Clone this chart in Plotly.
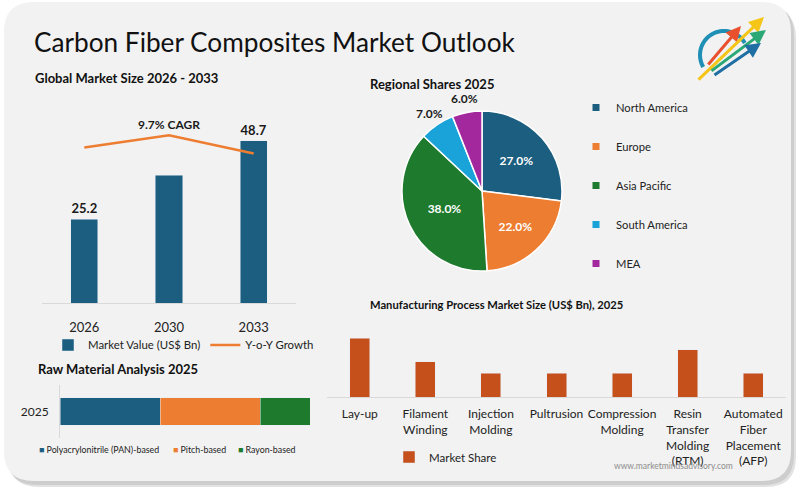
import numpy as np
import plotly.graph_objects as go

W, H = 800, 489
FONT = "Lato"
TXT = "#1a1a1a"

# ---------------- data ----------------
years = ["2026", "2030", "2033"]
market_value = [25.2, 38.4, 48.7]
value_labels = ["25.2", "", "48.7"]
yoy_growth = [10.2, 11.0, 9.8]
cagr_label = "9.7% CAGR"

regions = ["North America", "Europe", "Asia Pacific", "South America", "MEA"]
region_share = [27.0, 22.0, 38.0, 7.0, 6.0]
region_colors = ["#1b5e80", "#ed7d31", "#1e7a2d", "#19a3d9", "#a3289e"]
region_label_inside = [True, True, True, False, False]

raw_year = ["2025"]
raw_materials = ["Polyacrylonitrile (PAN)-based", "Pitch-based", "Rayon-based"]
raw_share = [40, 40, 20]
raw_colors = ["#1b5e80", "#ed7d31", "#1e7a2d"]

processes = ["Lay-up", "Filament<br>Winding", "Injection<br>Molding", "Pultrusion",
             "Compression<br>Molding", "Resin<br>Transfer<br>Molding<br>(RTM)",
             "Automated<br>Fiber<br>Placement<br>(AFP)"]
process_share = [25, 15, 10, 10, 10, 20, 10]
process_color = "#c5501b"


def px(x):
    return x / W


def py(y):
    return 1 - y / H


def rrect(x0, y0, x1, y1, r):
    return (f"M {px(x0 + r)},{py(y0)} L {px(x1 - r)},{py(y0)} "
            f"Q {px(x1)},{py(y0)} {px(x1)},{py(y0 + r)} L {px(x1)},{py(y1 - r)} "
            f"Q {px(x1)},{py(y1)} {px(x1 - r)},{py(y1)} L {px(x0 + r)},{py(y1)} "
            f"Q {px(x0)},{py(y1)} {px(x0)},{py(y1 - r)} L {px(x0)},{py(y0 + r)} "
            f"Q {px(x0)},{py(y0)} {px(x0 + r)},{py(y0)} Z")


fig = go.Figure()

# ---- Global market size ----
fig.add_trace(go.Bar(
    x=years, y=market_value, width=0.32, marker_color="#1b5e80",
    text=value_labels, textposition="outside", cliponaxis=False,
    textfont=dict(family=FONT, size=13, color=TXT, weight="bold"),
    name="Market Value (US$ Bn)", legend="legend", xaxis="x", yaxis="y"))
fig.add_trace(go.Scatter(
    x=years, y=yoy_growth, mode="lines", line=dict(color="#ed7d31", width=2.5),
    name="Y-o-Y Growth", legend="legend", xaxis="x", yaxis="y2"))

# ---- Regional pie ----
PIE_CX, PIE_CY, PIE_R = 482, 191, 80
fig.add_trace(go.Pie(
    labels=regions, values=region_share, sort=False, direction="clockwise",
    marker=dict(colors=region_colors, line=dict(color="white", width=1.5)),
    texttemplate="%{value:.1f}%",
    textposition=["inside" if v else "none" for v in region_label_inside],
    insidetextorientation="horizontal",
    textfont=dict(family=FONT, size=12, weight="bold", color="white"),
    domain=dict(x=[px(PIE_CX - PIE_R), px(PIE_CX + PIE_R)],
                y=[py(PIE_CY + PIE_R), py(PIE_CY - PIE_R)]),
    showlegend=False, hoverinfo="label+percent"))
for lab, col in zip(regions, region_colors):
    fig.add_trace(go.Scatter(
        x=[-10], y=[-10], mode="markers",
        marker=dict(symbol="square", size=7, color=col),
        name=lab, legend="legend2", legendgroup=lab, xaxis="x5", yaxis="y5",
        hoverinfo="skip"))

# ---- Raw material ----
for mat, val, col in zip(raw_materials, raw_share, raw_colors):
    fig.add_trace(go.Bar(
        x=[val], y=raw_year, orientation="h", width=0.51, marker_color=col,
        name=mat, showlegend=False, xaxis="x3", yaxis="y3"))

# ---- Manufacturing process ----
fig.add_trace(go.Bar(
    x=processes, y=process_share, width=0.305, marker_color=process_color,
    name="Market Share", legend="legend4", xaxis="x4", yaxis="y4"))

# ---------------- shapes ----------------
shapes = [
    dict(type="path", path=rrect(9, 8, 796, 487, 30), xref="paper", yref="paper",
         fillcolor="#e2e2e2", line=dict(width=0), layer="below"),
    dict(type="path", path=rrect(7, 5, 794, 485, 30), xref="paper", yref="paper",
         fillcolor="#cdcdcd", line=dict(width=0), layer="below"),
    dict(type="path", path=rrect(4, 2, 791, 481, 30), xref="paper", yref="paper",
         fillcolor="#f2f2f2", line=dict(width=0), layer="below"),
]
# logo arc
ang = np.linspace(np.radians(150), np.radians(330), 40)
cx, cy, r = 724, 55, 24
pts = [(cx + r * np.cos(a), cy + r * np.sin(a)) for a in ang]
path = "M " + " L ".join(f"{px(x)},{py(y)}" for x, y in pts)
shapes.append(dict(type="path", path=path, xref="paper", yref="paper",
                   line=dict(color="#1f8fb5", width=4)))

annotations = [
    dict(text="Carbon Fiber Composites Market Outlook", x=px(32), y=py(42),
         font=dict(family=FONT, size=26.2, color="#111")),
    dict(text="Global Market Size 2026 - 2033", x=px(33), y=py(78),
         font=dict(family=FONT, size=13, color="#111", weight="bold")),
    dict(text="Regional Shares 2025", x=px(368), y=py(84),
         font=dict(family=FONT, size=13, color="#111", weight="bold")),
    dict(text="Raw Material Analysis 2025", x=px(36), y=py(369),
         font=dict(family=FONT, size=13, color="#111", weight="bold")),
    dict(text="Manufacturing Process Market Size (US$ Bn), 2025", x=px(368), y=py(304),
         font=dict(family=FONT, size=11.2, color="#111", weight="bold")),
    dict(text="www.marketmindsadvisory.com", x=px(612), y=py(466),
         font=dict(family=FONT, size=8.5, color="#8c8c8c")),
]
# raw-material legend entries
for mat, col, lx in zip(raw_materials, raw_colors, [37, 171, 236]):
    annotations.append(dict(
        text=f'<span style="color:{col}">■</span> {mat}', x=px(lx), y=py(449),
        font=dict(family=FONT, size=8.8, color="#222")))
for a in annotations:
    a.update(xref="paper", yref="paper", xanchor="left", yanchor="middle", showarrow=False)

# outside pie labels (small slices), placed from the slice mid-angles
total = sum(region_share)
cum = 0.0
for val, inside in zip(region_share, region_label_inside):
    mid = (cum + val / 2) / total * 2 * np.pi
    cum += val
    if inside:
        continue
    rr = PIE_R + 14
    annotations.append(dict(
        text=f"{val:.1f}%", x=px(PIE_CX + rr * np.sin(mid)), y=py(PIE_CY - rr * np.cos(mid)),
        xref="paper", yref="paper", xanchor="center", yanchor="middle", showarrow=False,
        font=dict(family=FONT, size=12, color=TXT, weight="bold")))

annotations.append(dict(text=cagr_label, x=years.index("2030"), y=yoy_growth[1],
                        xref="x", yref="y2", yshift=11, showarrow=False,
                        font=dict(family=FONT, size=12, color=TXT, weight="bold")))
# logo arrows (tip, tail, colour)
for tip, tail, col in [((741, 26), (707, 66), "#e8502e"), ((764, 17), (697, 81), "#f5c518"),
                       ((766, 30), (710, 72), "#2aa876"), ((761, 43), (713, 76), "#1f6fa5")]:
    annotations.append(dict(x=px(tip[0]), y=py(tip[1]), xref="paper", yref="paper",
                            ax=tail[0] - tip[0], ay=tail[1] - tip[1], text="",
                            showarrow=True, arrowhead=2, arrowsize=1, arrowwidth=3,
                            arrowcolor=col))

axis_common = dict(showgrid=False, zeroline=False, ticks="", automargin=False)
leg_common = dict(bgcolor="rgba(0,0,0,0)")

fig.update_layout(
    width=W, height=H, autosize=False, margin=dict(l=0, r=0, t=0, b=0, pad=0),
    paper_bgcolor="white", plot_bgcolor="rgba(0,0,0,0)",
    font=dict(family=FONT, color=TXT), barmode="stack",
    shapes=shapes, annotations=annotations,
    xaxis=dict(domain=[px(42), px(296)], anchor="y", type="category", showline=True,
               range=[-0.5, len(years) - 0.5],
               linecolor="#d9d9d9", tickfont=dict(size=13, color="#222"),
               ticklabelstandoff=12, **axis_common),
    yaxis=dict(domain=[py(303), py(120)], range=[0, 55], visible=False, anchor="x",
               automargin=False),
    yaxis2=dict(overlaying="y", range=[0, 12], visible=False, anchor="x", automargin=False),
    xaxis3=dict(domain=[px(60), px(310)], range=[0, 100], visible=False, anchor="y3",
                automargin=False),
    yaxis3=dict(domain=[py(438), py(385)], anchor="x3", type="category", showline=True,
                linecolor="#d9d9d9", tickfont=dict(size=12, color="#222"),
                ticklabelstandoff=8, **axis_common),
    xaxis4=dict(domain=[px(327), px(786)], anchor="y4", type="category", showline=True,
                range=[-0.5, len(processes) - 0.5],
                linecolor="#d9d9d9", tickfont=dict(size=12, color="#222"),
                ticklabelstandoff=6, **axis_common),
    yaxis4=dict(domain=[py(397), py(330)], range=[0, 28.4], visible=False, anchor="x4",
                automargin=False),
    xaxis5=dict(domain=[0, 0.01], range=[0, 1], visible=False, anchor="y5", automargin=False),
    yaxis5=dict(domain=[0, 0.01], range=[0, 1], visible=False, anchor="x5", automargin=False),
    legend=dict(x=px(48), y=py(345), xanchor="left", yanchor="middle", orientation="h",
                traceorder="normal", font=dict(size=11.4, color="#222"), **leg_common),
    legend2=dict(x=px(576), y=py(93), xanchor="left", yanchor="top", orientation="v",
                 traceorder="grouped", font=dict(size=11.2, color="#222"),
                 tracegroupgap=20, **leg_common),
    legend4=dict(x=px(389), y=py(457), xanchor="left", yanchor="middle", orientation="h",
                 traceorder="normal", font=dict(size=11.5, color="#222"), **leg_common),
)

fig.write_html("out.html", config={"displayModeBar": False},
               post_script="document.body.style.margin='0';document.body.style.overflow='hidden';")
